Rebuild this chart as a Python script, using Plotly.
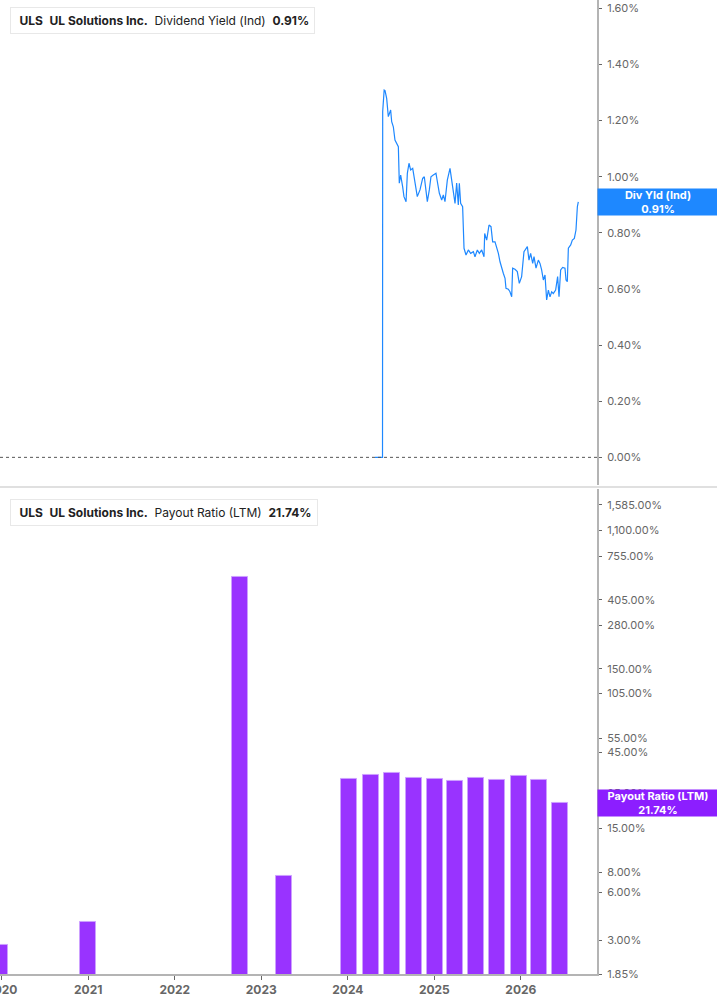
import plotly.graph_objects as go

# dividend yield (%) — x as fractional year
yld_x = [2024.314, 2024.401, 2024.403, 2024.411, 2024.420, 2024.430, 2024.449, 2024.468, 2024.495,
         2024.507, 2024.526, 2024.545, 2024.565, 2024.584, 2024.595, 2024.611, 2024.634, 2024.649,
         2024.673, 2024.688, 2024.707, 2024.726, 2024.750, 2024.776, 2024.803, 2024.834, 2024.865,
         2024.884, 2024.900, 2024.919, 2024.942, 2024.961, 2024.988, 2025.019, 2025.035, 2025.058,
         2025.085, 2025.104, 2025.123, 2025.150, 2025.181, 2025.200, 2025.220, 2025.239, 2025.258,
         2025.277, 2025.289, 2025.304, 2025.327, 2025.343, 2025.366, 2025.393, 2025.420, 2025.451,
         2025.470, 2025.497, 2025.520, 2025.547, 2025.574, 2025.582, 2025.605, 2025.632, 2025.655,
         2025.674, 2025.701, 2025.720, 2025.740, 2025.759, 2025.778, 2025.797, 2025.817, 2025.828,
         2025.855, 2025.874, 2025.894, 2025.905, 2025.932, 2025.959, 2025.982, 2026.009, 2026.036,
         2026.056, 2026.075, 2026.094, 2026.113, 2026.137, 2026.152, 2026.175, 2026.202, 2026.221,
         2026.240, 2026.260, 2026.279, 2026.298, 2026.318, 2026.337, 2026.356, 2026.375, 2026.402,
         2026.425, 2026.441, 2026.460, 2026.483, 2026.510, 2026.522, 2026.537, 2026.549, 2026.576,
         2026.595, 2026.618, 2026.637, 2026.653, 2026.664]
yld_v = [0.0, 0.0, 1.232, 1.280, 1.309, 1.307, 1.279, 1.214, 1.238,
         1.196, 1.178, 1.131, 1.119, 1.107, 0.977, 1.006, 0.964, 0.929,
         0.911, 1.012, 1.048, 1.024, 1.030, 0.977, 0.929, 0.953, 0.994,
         1.000, 0.959, 0.911, 0.953, 1.000, 1.006, 1.012, 0.982, 0.941,
         0.917, 0.935, 0.911, 0.988, 1.030, 0.994, 0.947, 0.905, 0.977,
         0.899, 0.977, 0.905, 0.893, 0.745, 0.721, 0.739, 0.727, 0.733,
         0.715, 0.739, 0.727, 0.739, 0.715, 0.798, 0.774, 0.828, 0.822,
         0.768, 0.768, 0.751, 0.727, 0.697, 0.674, 0.656, 0.638, 0.602,
         0.599, 0.590, 0.572, 0.674, 0.670, 0.662, 0.620, 0.644, 0.733,
         0.745, 0.751, 0.703, 0.727, 0.691, 0.715, 0.674, 0.703, 0.691,
         0.668, 0.632, 0.650, 0.561, 0.596, 0.572, 0.590, 0.584, 0.596,
         0.644, 0.572, 0.668, 0.677, 0.674, 0.632, 0.626, 0.745, 0.757,
         0.774, 0.780, 0.810, 0.893, 0.910]

# payout ratio (LTM, %)
pay_x = [2019.980, 2020.997, 2022.756, 2023.259, 2024.019, 2024.268, 2024.514, 2024.761,
         2025.007, 2025.238, 2025.481, 2025.727, 2025.974, 2026.209, 2026.448]
pay_v = [2.82, 3.89, 560.0, 7.61, 30.6, 32.4, 33.4, 31.2,
         30.6, 29.9, 31.1, 30.3, 32.0, 30.3, 21.74]

years = [2020, 2021, 2022, 2023, 2024, 2025, 2026]
yld_ticks = [0.0, 0.2, 0.4, 0.6, 0.8, 1.0, 1.2, 1.4, 1.6]
pay_ticks = [1.85, 3, 6, 8, 15, 25, 45, 55, 105, 150, 280, 405, 755, 1100, 1585]

BLUE = "rgb(30,136,255)"
PURPLE = "rgb(153,51,255)"
PURPLE_TAG = "rgb(140,30,255)"
GREY = "#666666"
AXIS = "#b4b4b4"

fig = go.Figure()
fig.add_trace(go.Scatter(x=yld_x, y=yld_v, mode="lines", line=dict(color=BLUE, width=1.2),
                         xaxis="x", yaxis="y", showlegend=False))
fig.add_trace(go.Bar(x=pay_x, y=pay_v, width=0.185, marker=dict(color=PURPLE,
                     line=dict(color="rgb(205,160,255)", width=1)),
                     xaxis="x2", yaxis="y2", showlegend=False))

xr = [2019.980, 2026.880]
fig.update_layout(
    width=717, height=1005,
    margin=dict(l=0, r=120, t=0, b=31),
    paper_bgcolor="white", plot_bgcolor="white",
    font=dict(family="Inter, Noto Sans, sans-serif", size=11, color=GREY),
    bargap=0,
    xaxis=dict(domain=[0, 1], range=xr, anchor="y", matches="x2", showticklabels=False,
               showgrid=False, zeroline=False, showline=False, ticks="", automargin=False),
    xaxis2=dict(domain=[0, 1], range=xr, anchor="y2", tickvals=years, ticktext=[str(y) for y in years],
                showgrid=False, zeroline=False, showline=True, linecolor=AXIS, linewidth=2,
                ticks="outside", ticklen=4, tickcolor=GREY, ticklabeloverflow="allow",
                automargin=False,
                tickfont=dict(size=12, color=GREY, family="Inter, sans-serif", weight="bold")),
    yaxis=dict(domain=[0.502, 1], range=[-0.0987, 1.6297], side="right", anchor="x",
               tickvals=yld_ticks, ticktext=[f"{v:.2f}%" for v in yld_ticks],
               showgrid=False, zeroline=False, showline=True, linecolor=AXIS, linewidth=2,
               ticks="outside", ticklen=3, tickcolor=GREY, ticklabelstandoff=3,
               ticklabeloverflow="allow", automargin=False, tickfont=dict(size=11, color=GREY)),
    yaxis2=dict(domain=[0, 0.498], type="log", range=[0.2672, 3.300], side="right", anchor="x2",
                tickvals=pay_ticks, ticktext=[f"{v:,.2f}%" for v in pay_ticks],
                showgrid=False, zeroline=False, showline=True, linecolor=AXIS, linewidth=2,
                ticks="outside", ticklen=3, tickcolor=GREY, ticklabelstandoff=3,
                ticklabeloverflow="allow", automargin=False, tickfont=dict(size=11, color=GREY)),
)

# zero reference line and panel divider
fig.add_shape(type="line", xref="paper", yref="y", x0=0, x1=1, y0=0, y1=0,
              line=dict(color="#555555", width=1, dash="dot"))
fig.add_shape(type="line", xref="paper", yref="paper", x0=0, x1=717 / 597, y0=0.5, y1=0.5,
              line=dict(color="#e0e0e0", width=2))

# header boxes
def header(ypix, color, metric, value):
    fig.add_annotation(xref="paper", yref="paper", x=10 / 597, y=1 - (ypix + 12.5) / 974,
                       xanchor="left", yanchor="middle", showarrow=False,
                       text=f"&nbsp;<b>ULS</b>&nbsp; <b>UL Solutions Inc.</b>&nbsp; {metric}&nbsp; <b>{value}</b>",
                       font=dict(size=12, color="#222222", family="Inter, sans-serif"),
                       bgcolor="white", bordercolor="#e8e8e8", borderwidth=1, borderpad=5)
    fig.add_shape(type="rect", xref="paper", yref="paper", x0=10 / 597, x1=13 / 597,
                  y0=1 - (ypix + 25) / 974, y1=1 - ypix / 974, fillcolor=color, line=dict(width=0))

header(8, BLUE, "Dividend Yield (Ind)", "0.91%")
header(500, PURPLE_TAG, "Payout Ratio (LTM)", "21.74%")

# last-value labels on the right axis
fig.add_annotation(xref="paper", yref="y", x=1, y=0.91, xanchor="left", yanchor="middle",
                   showarrow=False, text="<b>Div Yld (Ind)</b><br><b>0.91%</b>", align="center",
                   width=116, height=22, borderpad=2, bgcolor=BLUE,
                   font=dict(size=11, color="white", family="Inter, sans-serif"))
fig.add_annotation(xref="paper", yref="y2", x=1, y=1.3373, xanchor="left", yanchor="middle",
                   showarrow=False, text="<b>Payout Ratio (LTM)</b><br><b>21.74%</b>", align="center",
                   width=116, height=22, borderpad=2, bgcolor=PURPLE_TAG,
                   font=dict(size=11, color="white", family="Inter, sans-serif"))

fig.write_html("out.html", config={"displayModeBar": False},
               post_script="document.body.style.margin='0';")
